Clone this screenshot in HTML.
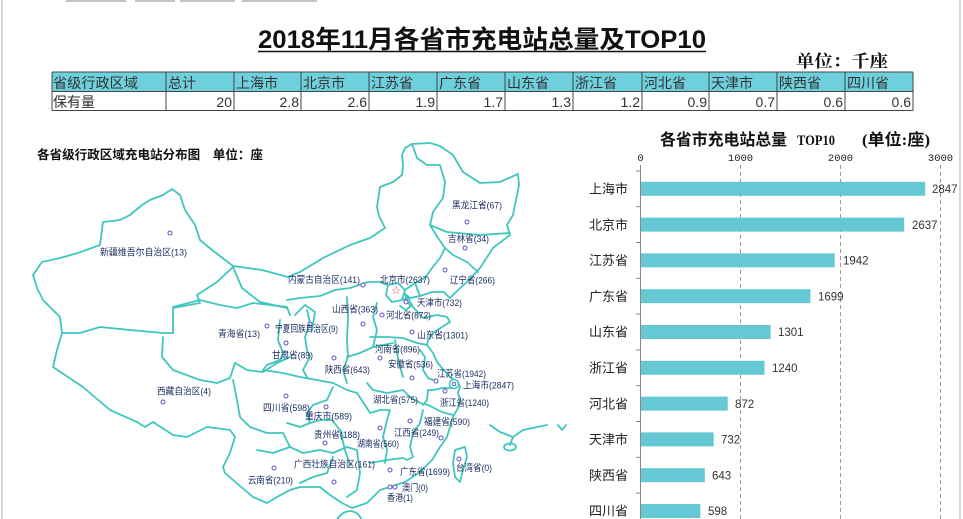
<!DOCTYPE html>
<html><head><meta charset="utf-8"><style>
html,body{margin:0;padding:0;background:#fff;}
svg{display:block;}
.cj{font-family:"Liberation Sans","Noto Sans CJK SC",sans-serif;}
.ml{font-family:"Liberation Sans","Noto Sans CJK SC",sans-serif;font-size:9.5px;fill:#1c2e63;}
</style></head><body>
<svg width="963" height="519" viewBox="0 0 963 519" xmlns="http://www.w3.org/2000/svg">
<rect width="963" height="519" fill="#fff"/>
<line x1="2" y1="0" x2="2" y2="519" stroke="#c8c8c8" stroke-width="1.5"/>
<line x1="960" y1="0" x2="960" y2="519" stroke="#c8c8c8" stroke-width="1.5"/>
<g fill="#c4c4c4">
<rect x="66" y="0" width="60" height="2"/><rect x="135" y="0" width="40" height="2"/><rect x="180" y="0" width="55" height="2"/><rect x="242" y="0" width="75" height="2"/>
</g>
<text x="258" y="48" class="cj" font-size="25" font-weight="bold" fill="#111" textLength="448" lengthAdjust="spacingAndGlyphs">2018年11月各省市充电站总量及TOP10</text>
<line x1="258" y1="51.5" x2="706" y2="51.5" stroke="#111" stroke-width="1.6"/>
<text x="796" y="67" font-family="'Noto Serif CJK SC','Noto Sans CJK SC',serif" font-size="17" font-weight="bold" fill="#111" textLength="92" lengthAdjust="spacingAndGlyphs">单位：千座</text>
<rect x="52" y="72" width="861" height="19.5" fill="#6dd0dc"/>
<g stroke="#444" stroke-width="1">
<line x1="52" y1="72" x2="913" y2="72"/><line x1="52" y1="91.5" x2="913" y2="91.5"/><line x1="52" y1="110.5" x2="913" y2="110.5"/>
<line x1="52" y1="72" x2="52" y2="110.5"/><line x1="166" y1="72" x2="166" y2="110.5"/><line x1="234" y1="72" x2="234" y2="110.5"/><line x1="301" y1="72" x2="301" y2="110.5"/><line x1="369" y1="72" x2="369" y2="110.5"/><line x1="437" y1="72" x2="437" y2="110.5"/><line x1="505" y1="72" x2="505" y2="110.5"/><line x1="573" y1="72" x2="573" y2="110.5"/><line x1="642" y1="72" x2="642" y2="110.5"/><line x1="709" y1="72" x2="709" y2="110.5"/><line x1="777" y1="72" x2="777" y2="110.5"/><line x1="845" y1="72" x2="845" y2="110.5"/><line x1="913" y1="72" x2="913" y2="110.5"/>
</g>
<g class="cj" font-size="14" fill="#333">
<text x="53" y="88" textLength="85" lengthAdjust="spacingAndGlyphs">省级行政区域</text>
<text x="168" y="88">总计</text>
<text x="236" y="88">上海市</text>
<text x="303" y="88">北京市</text>
<text x="371" y="88">江苏省</text>
<text x="439" y="88">广东省</text>
<text x="507" y="88">山东省</text>
<text x="575" y="88">浙江省</text>
<text x="644" y="88">河北省</text>
<text x="711" y="88">天津市</text>
<text x="779" y="88">陕西省</text>
<text x="847" y="88">四川省</text>
<text x="53" y="107">保有量</text>
</g>
<g font-family="'Liberation Sans',sans-serif" font-size="14" fill="#333" text-anchor="end">
<text x="232" y="107">20</text><text x="299" y="107">2.8</text><text x="367" y="107">2.6</text><text x="435" y="107">1.9</text><text x="503" y="107">1.7</text><text x="571" y="107">1.3</text><text x="640" y="107">1.2</text><text x="707" y="107">0.9</text><text x="775" y="107">0.7</text><text x="843" y="107">0.6</text><text x="911" y="107">0.6</text>
</g>

<text x="37" y="159" class="cj" font-size="12.5" font-weight="bold" fill="#111" textLength="226" lengthAdjust="spacingAndGlyphs">各省级行政区域充电站分布图　单位：座</text>

<g fill="none" stroke="#40c6bd" stroke-width="1.8" stroke-linejoin="round" stroke-linecap="round">
<path d="M33,275 L42,262 L60,258 L78,253 L100,245 L103,222 L120,220 L130,215 L142,205 L150,200 L163,195 L172,189 L180,195 L185,210 L195,225 L200,240 L212,250 L233,266 L262,270 L288,277 L300,272 L323,258 L350,245 L370,238 L385,228 L379,216 L377,207 L380,187 L393,182 L402,175 L403,165 L402,155 L405,148 L412,144 L430,143 L440,146 L453,155 L463,172 L480,183 L500,182 L518,174 L519,185 L513,215 L507,225 L510,235 L493,248 L480,268 L467,282 L458,290 L450,298 L444,292 L432,292 L420,296 L410,298 L405,294 L408,303 L413,307 L423,318 L437,315 L447,317 L450,322 L442,327 L433,333 L428,340 L427,345 L433,353 L437,362 L442,368 L450,377 L458,382 L460,387 L458,393 L460,400 L458,408 L453,417 L450,427 L447,437 L440,447 L432,460 L420,472 L405,482 L390,487 L380,490 L367,503 L352,508 L342,503 L330,495 L320,487 L300,487 L290,490 L277,497 L267,503 L253,497 L233,480 L225,473 L223,467 L230,453 L235,437 L230,430 L207,427 L187,437 L173,435 L153,422 L145,427 L137,422 L110,410 L83,387 L53,367 L57,350 L62,333 L60,317 L43,300 L37,288 Z"/>
<path d="M233,267 L217,282 L197,295 L200,303 L173,308 L173,333 L163,333 L130,330 L100,327 L80,333 L62,333"/>
<path d="M233,267 L242,288 L260,302 L287,308"/>
<path d="M173,307 L200,300 L220,305 L237,308 L253,303 L287,307 L290,315"/>
<path d="M163,337 L162,357 L173,370 L200,380 L217,383 L230,378 L235,363 L247,370 L263,372 L277,363 L290,357"/>
<path d="M280,320 L278,340 L283,353 L280,360 L267,365 L263,370"/>
<path d="M287,300 L300,298 L320,296 L335,290 L350,288 L368,282 L380,282 L388,285"/>
<path d="M405,290 L415,283 L425,278 L432,268 L440,258 L445,248 L438,238 L430,225"/>
<path d="M412,144 L417,158 L427,165 L440,165 L445,182 L443,198 L433,212 L430,225 L447,232 L480,235 L510,233"/>
<path d="M445,248 L453,255 L467,262 L478,272"/>
<path d="M415,283 L420,296"/>
<path d="M388,285 L398,283 L405,290 L402,300 L392,302 L386,295 Z"/>
<path d="M402,300 L408,298 L412,305 L406,310 L400,306"/>
<path d="M307,310 L310,323 L305,337 L307,350 L310,357 L303,370 L307,377"/>
<path d="M295,315 L305,305 L315,312 L312,330"/>
<path d="M347,297 L348,317 L347,340 L348,357 L343,370 L347,383"/>
<path d="M347,357 L360,353 L373,347 L393,343"/>
<path d="M377,303 L373,317 L377,330 L373,347"/>
<path d="M370,337 L387,337 L403,338 L417,343 L427,345"/>
<path d="M395,340 L397,353 L400,367 L403,377"/>
<path d="M420,350 L425,357 L423,370 L428,378 L433,380"/>
<path d="M428,390 L433,390 L442,388 L452,388"/>
<path d="M428,390 L427,400 L423,405"/>
<path d="M403,390 L410,397 L420,403 L428,405 L442,412 L453,415"/>
<path d="M367,383 L373,390 L387,393 L403,390"/>
<path d="M370,413 L380,410 L390,410 L387,420 L383,437 L387,450 L385,463"/>
<path d="M423,410 L420,423 L413,433 L410,447 L413,457 L407,460"/>
<path d="M370,463 L387,460 L403,458 L407,460"/>
<path d="M263,370 L283,373 L300,377 L317,380 L333,383 L347,390 L357,393"/>
<path d="M233,380 L237,400 L240,417 L250,427 L267,433 L283,433"/>
<path d="M287,423 L300,427 L310,423 L320,420 L332,420 L340,430 L343,437"/>
<path d="M310,423 L307,413 L313,405 L327,400 L333,387"/>
<path d="M283,433 L290,447 L303,453 L320,450 L333,453 L347,447 L357,450"/>
<path d="M340,430 L345,450 L350,465"/>
<path d="M290,447 L273,453 L257,450"/>
<path d="M300,483 L313,477 L327,473 L333,457"/>
<path d="M357,450 L360,473 L357,490 L347,497"/>
<path d="M357,393 L365,405 L370,413"/>
<path d="M455,450 L465,447 L467,457 L463,470 L460,482 L455,477 L453,463 Z"/>
<path d="M336,522 Q340,512 350,511 Q360,512 362,522"/>
<path d="M490,425 L500,432 L513,437 L523,430 L547,425"/>
<path d="M558,425 L562,430 L566,425"/>
<path d="M513,437 L510,445"/>
<ellipse cx="510" cy="447" rx="6" ry="3.5"/>
</g>
<g fill="#fff" stroke="#5b50c8" stroke-width="1">
<circle cx="170" cy="233" r="2"/><circle cx="467" cy="222" r="2"/><circle cx="465" cy="248" r="2"/><circle cx="445" cy="270" r="2"/><circle cx="363" cy="285" r="2"/><circle cx="406" cy="302" r="2"/><circle cx="382" cy="315" r="2"/><circle cx="363" cy="324" r="2"/><circle cx="412" cy="332" r="2"/><circle cx="380" cy="358" r="2"/><circle cx="412" cy="378" r="2"/><circle cx="436" cy="381" r="2"/><circle cx="445" cy="391" r="2"/><circle cx="410" cy="421" r="2"/><circle cx="380" cy="428" r="2"/><circle cx="441" cy="438" r="2"/><circle cx="390" cy="470" r="2"/><circle cx="390" cy="487" r="2"/><circle cx="395" cy="487" r="2"/><circle cx="459" cy="459" r="2"/><circle cx="267" cy="326" r="2"/><circle cx="310" cy="324" r="2"/><circle cx="286" cy="343" r="2"/><circle cx="334" cy="358" r="2"/><circle cx="286" cy="396" r="2"/><circle cx="326" cy="407" r="2"/><circle cx="325" cy="443" r="2"/><circle cx="274" cy="468" r="2"/><circle cx="334" cy="482" r="2"/><circle cx="163" cy="402" r="2"/>
<circle cx="454" cy="384" r="4.5" stroke="#40c6bd" stroke-width="1.5"/><circle cx="454" cy="384" r="1.8"/>
</g>
<text x="396" y="294" text-anchor="middle" font-family="'DejaVu Sans',sans-serif" font-size="11" fill="#e0303a">☆</text>
<g class="ml">
<text x="100" y="255.5" textLength="87" lengthAdjust="spacingAndGlyphs">新疆维吾尔自治区(13)</text>
<text x="452" y="208.5" textLength="50" lengthAdjust="spacingAndGlyphs">黑龙江省(67)</text>
<text x="448" y="242" textLength="41" lengthAdjust="spacingAndGlyphs">吉林省(34)</text>
<text x="450" y="283.5" textLength="45" lengthAdjust="spacingAndGlyphs">辽宁省(266)</text>
<text x="288" y="283" textLength="72" lengthAdjust="spacingAndGlyphs">内蒙古自治区(141)</text>
<text x="380" y="283" textLength="50" lengthAdjust="spacingAndGlyphs">北京市(2637)</text>
<text x="417" y="306" textLength="45" lengthAdjust="spacingAndGlyphs">天津市(732)</text>
<text x="386" y="318.5" textLength="45" lengthAdjust="spacingAndGlyphs">河北省(872)</text>
<text x="417" y="338.5" textLength="51" lengthAdjust="spacingAndGlyphs">山东省(1301)</text>
<text x="375" y="352.5" textLength="45" lengthAdjust="spacingAndGlyphs">河南省(896)</text>
<text x="388" y="367.5" textLength="45" lengthAdjust="spacingAndGlyphs">安徽省(536)</text>
<text x="437" y="377" textLength="49" lengthAdjust="spacingAndGlyphs">江苏省(1942)</text>
<text x="463" y="388.5" textLength="51" lengthAdjust="spacingAndGlyphs">上海市(2847)</text>
<text x="440" y="406" textLength="49" lengthAdjust="spacingAndGlyphs">浙江省(1240)</text>
<text x="373" y="403" textLength="45" lengthAdjust="spacingAndGlyphs">湖北省(575)</text>
<text x="424" y="425" textLength="46" lengthAdjust="spacingAndGlyphs">福建省(590)</text>
<text x="394" y="436" textLength="45" lengthAdjust="spacingAndGlyphs">江西省(249)</text>
<text x="357" y="447" textLength="42" lengthAdjust="spacingAndGlyphs">湖南省(560)</text>
<text x="400" y="475" textLength="50" lengthAdjust="spacingAndGlyphs">广东省(1699)</text>
<text x="456" y="471" textLength="36" lengthAdjust="spacingAndGlyphs">台湾省(0)</text>
<text x="402" y="491" textLength="26" lengthAdjust="spacingAndGlyphs">澳门(0)</text>
<text x="387" y="501" textLength="26" lengthAdjust="spacingAndGlyphs">香港(1)</text>
<text x="332" y="312.5" textLength="46" lengthAdjust="spacingAndGlyphs">山西省(363)</text>
<text x="275" y="332" textLength="63" lengthAdjust="spacingAndGlyphs">宁夏回族自治区(9)</text>
<text x="218" y="337" textLength="42" lengthAdjust="spacingAndGlyphs">青海省(13)</text>
<text x="272" y="358.5" textLength="41" lengthAdjust="spacingAndGlyphs">甘肃省(89)</text>
<text x="325" y="373" textLength="45" lengthAdjust="spacingAndGlyphs">陕西省(643)</text>
<text x="263" y="411" textLength="47" lengthAdjust="spacingAndGlyphs">四川省(598)</text>
<text x="305" y="419.5" textLength="47" lengthAdjust="spacingAndGlyphs">重庆市(589)</text>
<text x="314" y="438" textLength="46" lengthAdjust="spacingAndGlyphs">贵州省(188)</text>
<text x="294" y="467.5" textLength="81" lengthAdjust="spacingAndGlyphs">广西壮族自治区(161)</text>
<text x="248" y="483.5" textLength="45" lengthAdjust="spacingAndGlyphs">云南省(210)</text>
<text x="157" y="394.5" textLength="54" lengthAdjust="spacingAndGlyphs">西藏自治区(4)</text>
</g>

<g font-weight="bold" fill="#111">
<text x="660" y="145" class="cj" font-size="16" textLength="127" lengthAdjust="spacingAndGlyphs">各省市充电站总量</text>
<text x="797" y="145" font-family="'Liberation Serif',serif" font-size="15" textLength="38" lengthAdjust="spacingAndGlyphs">TOP10</text>
<text x="862" y="145" font-family="'Liberation Serif','Noto Sans CJK SC',serif" font-size="16" textLength="68" lengthAdjust="spacingAndGlyphs">(单位:座)</text>
</g>
<g font-family="'Liberation Mono',monospace" font-size="10.5" fill="#222" text-anchor="middle">
<text x="640.5" y="161">0</text><text x="740.5" y="161">1000</text><text x="840.5" y="161">2000</text><text x="940.5" y="161">3000</text>
</g>
<g stroke="#999" stroke-width="1" stroke-dasharray="4,3">
<line x1="740.5" y1="165" x2="740.5" y2="519"/><line x1="840.5" y1="165" x2="840.5" y2="519"/><line x1="940.5" y1="165" x2="940.5" y2="519"/>
</g>
<line x1="640.5" y1="165" x2="640.5" y2="519" stroke="#888" stroke-width="1"/>
<g stroke="#888" stroke-width="1">
<line x1="636" y1="171" x2="640.5" y2="171"/><line x1="636" y1="206.7" x2="640.5" y2="206.7"/><line x1="636" y1="242.5" x2="640.5" y2="242.5"/><line x1="636" y1="278.3" x2="640.5" y2="278.3"/><line x1="636" y1="314.1" x2="640.5" y2="314.1"/><line x1="636" y1="349.9" x2="640.5" y2="349.9"/><line x1="636" y1="385.7" x2="640.5" y2="385.7"/><line x1="636" y1="421.5" x2="640.5" y2="421.5"/><line x1="636" y1="457.3" x2="640.5" y2="457.3"/><line x1="636" y1="493.1" x2="640.5" y2="493.1"/>
</g>
<g fill="#64c8d5">
<rect x="641" y="181.8" width="284.2" height="14"/>
<rect x="641" y="217.6" width="263.2" height="14"/>
<rect x="641" y="253.4" width="193.7" height="14"/>
<rect x="641" y="289.2" width="169.4" height="14"/>
<rect x="641" y="325" width="129.6" height="14"/>
<rect x="641" y="360.8" width="123.5" height="14"/>
<rect x="641" y="396.6" width="86.7" height="14"/>
<rect x="641" y="432.4" width="72.7" height="14"/>
<rect x="641" y="468.2" width="63.8" height="14"/>
<rect x="641" y="504" width="59.3" height="14"/>
</g>
<g font-family="'Liberation Sans',sans-serif" font-size="11.5" fill="#333">
<text x="932" y="193">2847</text>
<text x="912" y="228.8">2637</text>
<text x="843" y="264.6">1942</text>
<text x="818" y="300.4">1699</text>
<text x="778" y="336.2">1301</text>
<text x="772" y="372">1240</text>
<text x="735" y="407.8">872</text>
<text x="721" y="443.6">732</text>
<text x="712" y="479.4">643</text>
<text x="708" y="515.2">598</text>
</g>
<g class="cj" font-size="13" fill="#222" text-anchor="end">
<text x="628" y="193.5">上海市</text>
<text x="628" y="229.3">北京市</text>
<text x="628" y="265.1">江苏省</text>
<text x="628" y="300.9">广东省</text>
<text x="628" y="336.7">山东省</text>
<text x="628" y="372.5">浙江省</text>
<text x="628" y="408.3">河北省</text>
<text x="628" y="444.1">天津市</text>
<text x="628" y="479.9">陕西省</text>
<text x="628" y="515.7">四川省</text>
</g>
</svg>
</body></html>
